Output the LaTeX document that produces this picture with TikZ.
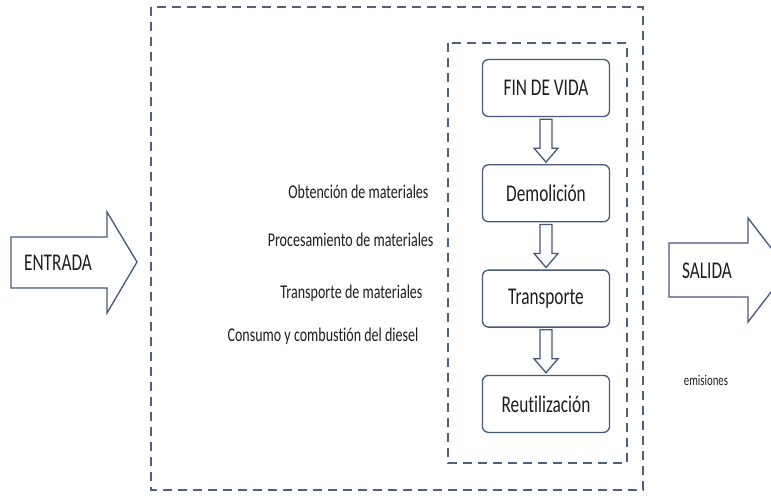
\documentclass[tikz,border=0pt]{standalone}
\usepackage{fontspec}
\setmainfont{Carlito}[FakeStretch=0.72, Ligatures=CommonOff]
\usetikzlibrary{positioning, calc}

\begin{document}
\begin{tikzpicture}
        [ x=1pt, y=-1pt
        , node distance=47pt
        , stage/.style={draw=border, line width=1.3pt, rounded corners=6pt, fill=white,
                        minimum width=127pt, minimum height=57pt, text=ink,
                        font=\fontsize{24}{26}\selectfont}
        , act/.style={anchor=east, text=ink, font=\fontsize{19.5}{21}\selectfont}
        , io/.style={text=ink, font=\fontsize{24}{26}\selectfont}
        , frame/.style={draw=dashc, line width=1.6pt, dash pattern=on 9pt off 6pt}
        , hollow/.style={draw=border, line width=1.3pt, fill=white, line join=miter}
        , big/.style={draw=border, line width=1.3pt, fill=white, line join=miter}
        ]
        \definecolor{border}{RGB}{72,88,122}
        \definecolor{dashc}{RGB}{80,96,128}
        \definecolor{ink}{RGB}{30,30,30}
        \newcommand{\flowarrow}[2]{%
            \draw[hollow] ($(#1.south)+(-6,2)$) -- ($(#2.north)+(-6,-16)$)
                -- ($(#2.north)+(-12,-16)$) -- ($(#2.north)+(0,-2)$)
                -- ($(#2.north)+(12,-16)$) -- ($(#2.north)+(6,-16)$)
                -- ($(#1.south)+(6,2)$) -- cycle;}

        \useasboundingbox (0,0) rectangle (771,503);

        % frames
        \draw[frame] (151,7) rectangle (643,490);
        \draw[frame] (448,43) rectangle (627,463);

        % end of life stages
        \node (fin) [stage] at (546,88) {FIN DE VIDA};
        \node (dem) [stage, below=of fin] {Demolición};
        \node (tra) [stage, below=of dem] {Transporte};
        \node (reu) [stage, below=of tra] {Reutilización};
        \flowarrow{fin}{dem}
        \flowarrow{dem}{tra}
        \flowarrow{tra}{reu}

        % activities
        \node (a1) [act] at (432,192) {Obtención de materiales};
        \node (a2) [act] at (437,240) {Procesamiento de materiales};
        \node (a3) [act] at (426,293) {Transporte de materiales};
        \node (a4) [act] at (422,336) {Consumo y combustión del diesel};

        % input / output
        \draw[big] (11,237) -- (107,237) -- (107,212) -- (137,262)
            -- (107,313) -- (107,288) -- (11,288) -- cycle;
        \node (in) [io] at (58,263) {ENTRADA};
        \draw[big] (669,243) -- (748,243) -- (748,218) -- (788,270)
            -- (748,322) -- (748,297) -- (669,297) -- cycle;
        \node (out) [io] at (707,271) {SALIDA};
        \node (em) [text=ink, font=\fontsize{15}{17}\selectfont] at (706,380) {emisiones};
\end{tikzpicture}
\end{document}
